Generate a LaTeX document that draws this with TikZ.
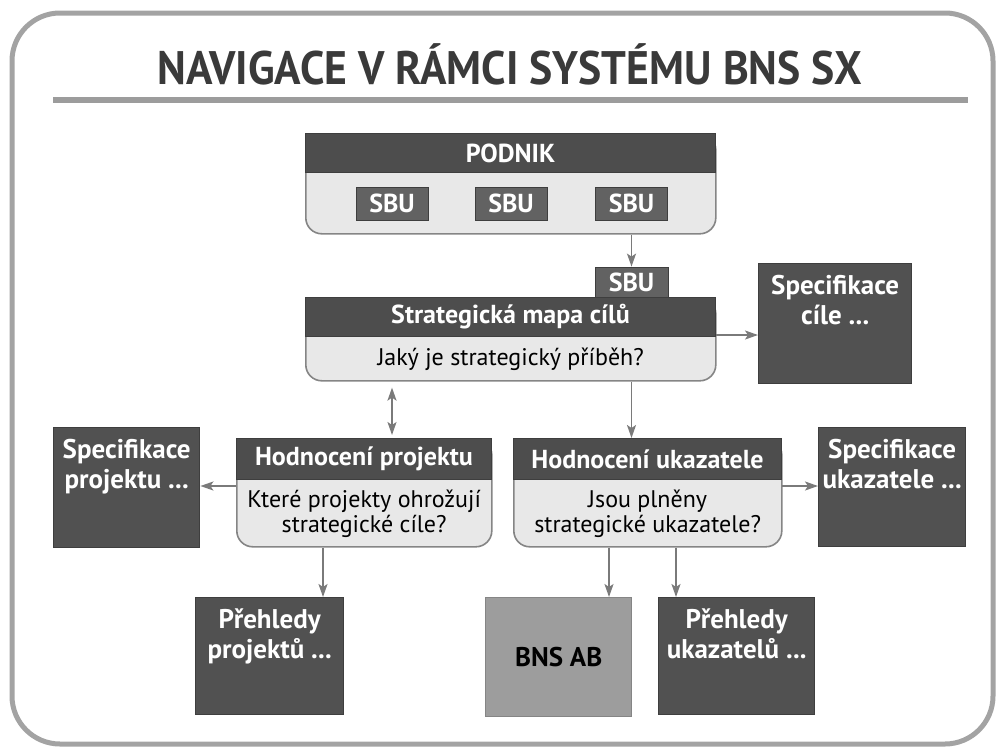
\documentclass[tikz,border=0pt]{standalone}
\usepackage{fontspec}
\setmainfont{PT Sans}
\usetikzlibrary{arrows.meta,calc}

\definecolor{frameg}{HTML}{A3A3A3}
\definecolor{barg}{HTML}{9C9C9C}
\definecolor{titleg}{HTML}{3A3A3A}
\definecolor{lightg}{HTML}{E8E8E8}
\definecolor{edgeg}{HTML}{858585}
\definecolor{headg}{HTML}{4D4D4D}
\definecolor{darkg}{HTML}{515151}
\definecolor{darkedge}{HTML}{3E3E3E}
\definecolor{sbug}{HTML}{626262}
\definecolor{abg}{HTML}{9D9D9D}
\definecolor{arrowg}{HTML}{7A7A7A}

\newcommand\hdfont{\bfseries\fontsize{26}{30}\selectfont}
\newcommand\bxfont{\bfseries\fontsize{27}{30}\selectfont}
\newcommand\qsfont{\fontsize{24}{25}\selectfont}

\begin{document}
\begin{tikzpicture}[x=1pt,y=-1pt,
  >={Stealth[length=13pt,width=9pt,inset=3pt]},
  frame/.style={draw=frameg, line width=5pt, rounded corners=48pt},
  lightbody/.style={draw=edgeg, line width=1.6pt, fill=lightg, rounded corners=16pt, anchor=north west, inner sep=0pt},
  header/.style={draw=darkedge, line width=1pt, fill=headg, text=white, font=\hdfont, anchor=north west, inner sep=0pt, minimum height=39pt},
  sbubox/.style={fill=sbug, draw=darkedge, line width=0.8pt, text=white, font=\hdfont, minimum width=72pt, minimum height=33pt, inner sep=0pt},
  darkbox/.style={fill=darkg, draw=darkedge, line width=1.4pt, anchor=north west, inner sep=0pt},
  boxtext/.style={text=white, font=\bxfont, align=center, anchor=north, inner sep=0pt, yshift=-12pt},
  qtext/.style={font=\qsfont, align=center, text=black, inner sep=0pt},
  arr/.style={draw=arrowg, line width=1.8pt, ->},
]
\useasboundingbox (0,0) rectangle (996,747);

% outer frame, title and rule
\draw[frame] (12,13) rectangle (993,744);
\node[font=\bfseries\fontsize{47}{50}\selectfont, text=titleg, anchor=base, inner sep=0pt] (title) at (510,84)
  {\scalebox{0.93}[1]{NAVIGACE V RÁMCI SYSTÉMU BNS SX}};
\draw[draw=barg, line width=6pt] (53,99.5) -- (968,99.5);

% company with its business units
\node[lightbody, minimum width=410pt, minimum height=100pt] (podb) at (305,133) {};
\node[header, minimum width=410pt] (podh) at (305,133) {PODNIK};
\node[sbubox] (s1) at (392,203.5) {SBU};
\node[sbubox] (s2) at (511,203.5) {SBU};
\node[sbubox] (s3) at (631.5,203.5) {SBU};

% strategy map of the selected unit
\node[sbubox, minimum width=73pt, minimum height=30pt] (tab) at (631.5,282) {SBU};
\node[lightbody, minimum width=410pt, minimum height=83pt] (smb) at (305,297) {};
\node[header, minimum width=410pt] (smh) at (305,297) {Strategická mapa cílů};
\node[qtext] (smq) at ($(smh.south)!0.5!(smb.south)$) {Jaký je strategický příběh?};

\node[darkbox, minimum width=153pt, minimum height=120pt] (spc) at (758,263) {};
\node[boxtext] (spct) at (spc.north) {Specifikace\\cíle ...};

% project evaluation
\node[lightbody, minimum width=255pt, minimum height=108pt] (hpb) at (236,438) {};
\node[header, minimum width=255pt, minimum height=41pt] (hph) at (236,438) {Hodnocení projektu};
\node[qtext] (hpq) at ($(hph.south)!0.5!(hpb.south)$) {Které projekty ohrožují\\strategické cíle?};

\node[darkbox, minimum width=146pt, minimum height=120pt] (spp) at (53,427) {};
\node[boxtext] (sppt) at (spp.north) {Specifikace\\projektu ...};

% indicator evaluation
\node[lightbody, minimum width=268pt, minimum height=108pt] (hub) at (513,438) {};
\node[header, minimum width=268pt, minimum height=41pt] (huh) at (513,438) {Hodnocení ukazatele};
\node[qtext] (huq) at ($(huh.south)!0.5!(hub.south)$) {Jsou plněny\\strategické ukazatele?};

\node[darkbox, minimum width=147pt, minimum height=119pt] (spu) at (818,427) {};
\node[boxtext] (sput) at (spu.north) {Specifikace\\ukazatele ...};

% overviews
\node[darkbox, minimum width=148pt, minimum height=117pt] (pp) at (195,597) {};
\node[boxtext] (ppt) at (pp.north) {Přehledy\\projektů ...};
\node[darkbox, fill=abg, draw=edgeg, minimum width=146pt, minimum height=119pt,
      text=black, font=\bxfont] (ab) at (485,597) {BNS AB};
\node[darkbox, minimum width=156pt, minimum height=117pt] (pu) at (658,597) {};
\node[boxtext] (put) at (pu.north) {Přehledy\\ukazatelů ...};

% connectors
\coordinate (dx) at (392,0);
\coordinate (px) at (323,0);
\coordinate (ax) at (609,0);
\coordinate (ux) at (676,0);
\coordinate (la) at ([yshift=-6pt]hph.south west);
\coordinate (ra) at ([yshift=-6pt]huh.south east);
\coordinate (ma) at ([yshift=2pt]smh.south east);

\draw[arr] (podb.south -| tab.north) -- (tab.north);
\draw[arr] (ma) -- (ma -| spc.west);
\draw[arr, <->, shorten <=6pt, shorten >=3pt] (smb.south -| dx) -- (hph.north -| dx);
\draw[arr] (smb.south -| tab.north) -- (huh.north -| tab.north);
\draw[arr] (la) -- (la -| spp.east);
\draw[arr] (ra) -- (ra -| spu.west);
\draw[arr] (hpb.south -| px) -- (pp.north -| px);
\draw[arr] (hub.south -| ax) -- (ab.north -| ax);
\draw[arr] (hub.south -| ux) -- (pu.north -| ux);
\end{tikzpicture}
\end{document}
